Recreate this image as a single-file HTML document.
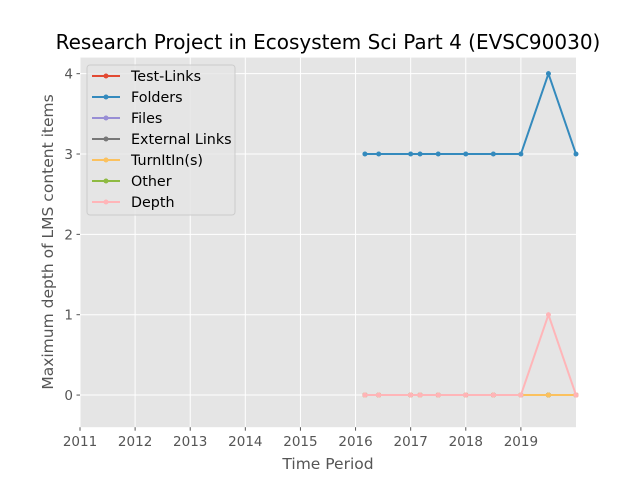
<!DOCTYPE html>
<html><head><meta charset="utf-8"><style>
body{margin:0;background:#fff;font-family:"DejaVu Sans","Liberation Sans",sans-serif;}
svg text{font-family:"DejaVu Sans","Liberation Sans",sans-serif;}
</style></head><body>
<svg id="chart" width="640" height="480" xmlns="http://www.w3.org/2000/svg">
<rect width="640" height="480" fill="#fff"/>
<text x="328" y="49" font-size="20" text-anchor="middle" fill="#000">Research Project in Ecosystem Sci Part 4 (EVSC90030)</text>
<rect x="80" y="57.6" width="496" height="369.6" fill="#e5e5e5"/>
<g id="grid"></g>
<g id="series"></g>
<g id="axes"></g>
<text x="328" y="469" font-size="15.5" text-anchor="middle" fill="#555">Time Period</text>
<text transform="translate(53,242) rotate(-90)" font-size="15.5" text-anchor="middle" fill="#555">Maximum depth of LMS content items</text>
<g id="legend"></g>
</svg>
<script>
const xDates=[2016.17,2016.42,2017.0,2017.17,2017.5,2018.0,2018.5,2019.0,2019.5,2020.0];
const testLinks=[0,0,0,0,0,0,0,0,0,0];
const folders=[3,3,3,3,3,3,3,3,4,3];
const files=[0,0,0,0,0,0,0,0,0,0];
const externalLinks=[0,0,0,0,0,0,0,0,0,0];
const turnitins=[0,0,0,0,0,0,0,0,0,0];
const other=[0,0,0,0,0,0,0,0,0,0];
const depth=[0,0,0,0,0,0,0,0,1,0];
const xTicks=[2011,2012,2013,2014,2015,2016,2017,2018,2019];
const yTicks=[0,1,2,3,4];
const seriesNames=["Test-Links","Folders","Files","External Links","TurnItIn(s)","Other","Depth"];
const seriesData=[testLinks,folders,files,externalLinks,turnitins,other,depth];
const colors=["#E24A33","#348ABD","#988ED5","#777777","#FBC15E","#8EBA42","#FFB5B8"];
const drawOrder=[0,1,2,3,5,4,6];
const NS="http://www.w3.org/2000/svg";
const X0=80,X1=576,Y0=57.6,Y1=427.2,xmin=2011,xmax=2020,ymin=-0.4,ymax=4.2;
function sx(v){return X0+(v-xmin)/(xmax-xmin)*(X1-X0);}
function sy(v){return Y1-(v-ymin)/(ymax-ymin)*(Y1-Y0);}
function mk(tag,attrs,parent){const e=document.createElementNS(NS,tag);for(const k in attrs)e.setAttribute(k,attrs[k]);parent.appendChild(e);return e;}
const grid=document.getElementById('grid'),axes=document.getElementById('axes'),ser=document.getElementById('series'),leg=document.getElementById('legend');
xTicks.forEach(t=>{const x=sx(t);
 const g=mk('line',{x1:x,x2:x,y1:Y0,y2:Y1,stroke:'#fff','stroke-width':1},grid);
 
 
 const tk=mk('line',{x1:x,x2:x,y1:Y1,y2:Y1+3.5,stroke:'#555'},axes);
 
 
 const l=mk('text',{x:x,y:Y1+19,'font-size':13.5,'text-anchor':'middle',fill:'#555'},axes);l.textContent=t;
 
 
});
yTicks.forEach(t=>{const y=sy(t);
 const g=mk('line',{x1:X0,x2:X1,y1:y,y2:y,stroke:'#fff','stroke-width':1},grid);
 
 
 const tk=mk('line',{x1:X0-3.5,x2:X0,y1:y,y2:y,stroke:'#555'},axes);
 
 
 const l=mk('text',{x:X0-7,y:y+5,'font-size':13.5,'text-anchor':'end',fill:'#555'},axes);l.textContent=t;
 
 
});
drawOrder.forEach(i=>{const d=seriesData[i];
 const g=mk('g',{},ser);
 
 
 const pts=d.map((v,j)=>sx(xDates[j])+','+sy(v)).join(' ');
 mk('polyline',{points:pts,fill:'none',stroke:colors[i],'stroke-width':2},g);
 d.forEach((v,j)=>{const c=mk('circle',{cx:sx(xDates[j]),cy:sy(v),r:2.5,fill:colors[i]},g);
  
  });
});
const lb=mk('rect',{x:87,y:65,width:148,height:150,rx:3,fill:'#e5e5e5',stroke:'#ccc','fill-opacity':0.8},leg);


seriesNames.forEach((n,i)=>{const y=76+i*21;
 const g=mk('g',{},leg);
 
 
 mk('line',{x1:92,x2:120,y1:y,y2:y,stroke:colors[i],'stroke-width':2},g);
 mk('circle',{cx:106,cy:y,r:2.5,fill:colors[i]},g);
 const t=mk('text',{x:131,y:y+5,'font-size':14.3,fill:'#000'},g);t.textContent=n;
});
</script>
</body></html>
